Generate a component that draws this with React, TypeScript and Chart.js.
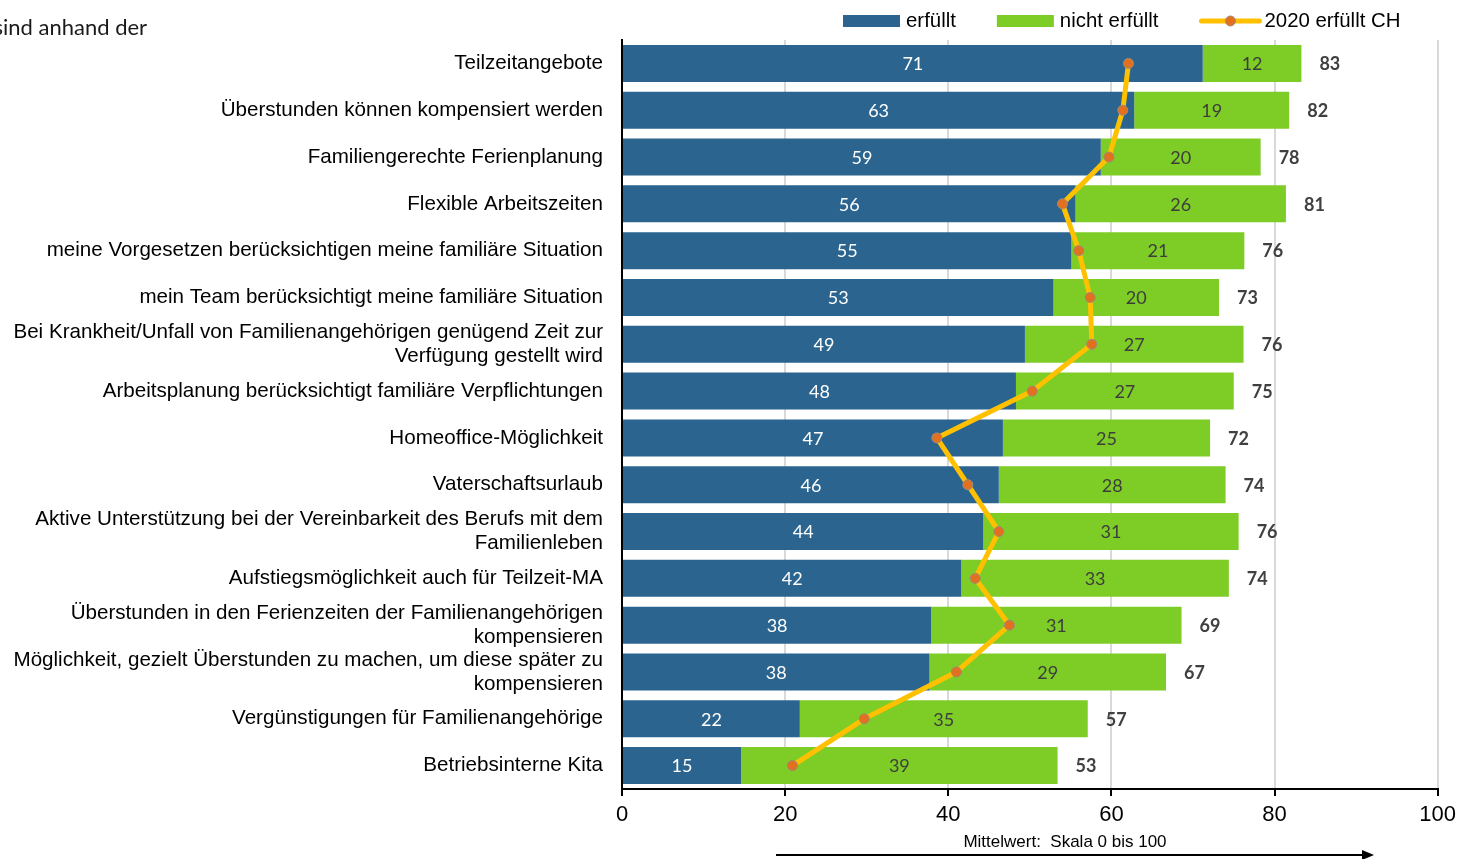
import { useEffect, useRef } from "react";
import { Chart, registerables } from "chart.js";

Chart.register(...registerables);

// Survey items (multi-line entries are arrays)
const categories: (string | string[])[] = [
  "Teilzeitangebote",
  "Überstunden können kompensiert werden",
  "Familiengerechte Ferienplanung",
  "Flexible Arbeitszeiten",
  "meine Vorgesetzen berücksichtigen meine familiäre Situation",
  "mein Team berücksichtigt meine familiäre Situation",
  ["Bei Krankheit/Unfall von Familienangehörigen genügend Zeit zur", "Verfügung gestellt wird"],
  "Arbeitsplanung berücksichtigt familiäre Verpflichtungen",
  "Homeoffice-Möglichkeit",
  "Vaterschaftsurlaub",
  ["Aktive Unterstützung bei der Vereinbarkeit des Berufs mit dem", "Familienleben"],
  "Aufstiegsmöglichkeit auch für Teilzeit-MA",
  ["Überstunden in den Ferienzeiten der Familienangehörigen", "kompensieren"],
  ["Möglichkeit, gezielt Überstunden zu machen, um diese später zu", "kompensieren"],
  "Vergünstigungen für Familienangehörige",
  "Betriebsinterne Kita",
];

const fulfilled = [71.2, 62.8, 58.7, 55.6, 55.1, 52.9, 49.4, 48.3, 46.7, 46.2, 44.3, 41.6, 37.9, 37.7, 21.8, 14.6];
const notFulfilled = [12.1, 19.0, 19.6, 25.8, 21.2, 20.3, 26.8, 26.7, 25.4, 27.8, 31.3, 32.8, 30.7, 29.0, 35.3, 38.8];
const fulfilledCH2020 = [62.1, 61.4, 59.7, 54.0, 56.0, 57.4, 57.6, 50.3, 38.6, 42.4, 46.2, 43.3, 47.5, 41.0, 29.7, 20.9];

const seriesNames = ["erfüllt", "nicht erfüllt", "2020 erfüllt CH"];
const xTickMin = 0;
const xTickMax = 100;
const xTickStep = 20;
const headingText = "sind anhand der";
const axisCaption = "Mittelwert:  Skala 0 bis 100";

const BLUE = "#2b658f";
const GREEN = "#7ecc26";
const YELLOW = "#ffc000";
const ORANGE = "#e2701f";
const ARIAL = "'Liberation Sans', Arial, sans-serif";
const CALIBRI = "Lato, 'Open Sans', sans-serif";

const segmentLabels = {
  id: "segmentLabels",
  afterDatasetsDraw(chart: any) {
    const ctx = chart.ctx as CanvasRenderingContext2D;
    const m0 = chart.getDatasetMeta(0);
    const m1 = chart.getDatasetMeta(1);
    ctx.save();
    ctx.textBaseline = "middle";
    ctx.textAlign = "center";
    ctx.font = `18px ${CALIBRI}`;
    m0.data.forEach((el: any, i: number) => {
      const { x, base, y } = el.getProps(["x", "base", "y"], true);
      ctx.fillStyle = "#ffffff";
      ctx.fillText(String(Math.round(fulfilled[i])), (x + base) / 2, y + 1);
    });
    m1.data.forEach((el: any, i: number) => {
      const { x, base, y } = el.getProps(["x", "base", "y"], true);
      ctx.fillStyle = "#3d3d3d";
      ctx.fillText(String(Math.round(notFulfilled[i])), (x + base) / 2, y + 1);
    });
    ctx.font = `bold 18px ${CALIBRI}`;
    ctx.textAlign = "left";
    ctx.fillStyle = "#404040";
    m1.data.forEach((el: any, i: number) => {
      const { x, y } = el.getProps(["x", "y"], true);
      ctx.fillText(String(Math.round(fulfilled[i] + notFulfilled[i])), x + 18, y + 1);
    });
    ctx.restore();
  },
};

const decorations = {
  id: "decorations",
  afterDraw(chart: any) {
    const ctx = chart.ctx as CanvasRenderingContext2D;
    ctx.save();

    // heading fragment at top-left
    ctx.font = `22px ${CALIBRI}`;
    ctx.fillStyle = "#1a1a1a";
    ctx.textBaseline = "middle";
    ctx.textAlign = "left";
    const sW = ctx.measureText(headingText.charAt(0)).width;
    ctx.fillText(headingText, 3 - sW, 28);

    // legend
    const ly = 21;
    let lx = 843;
    ctx.font = `20.4px ${ARIAL}`;
    ctx.fillStyle = "#000";
    const boxW = 57;
    [BLUE, GREEN].forEach((c, k) => {
      ctx.fillStyle = c;
      ctx.fillRect(lx, ly - 6, boxW, 12);
      lx += boxW + 6;
      ctx.fillStyle = "#000";
      ctx.fillText(seriesNames[k], lx, ly);
      lx += ctx.measureText(seriesNames[k]).width + 41;
    });
    ctx.strokeStyle = YELLOW;
    ctx.lineWidth = 5;
    ctx.lineCap = "round";
    ctx.beginPath();
    ctx.moveTo(lx + 2, ly);
    ctx.lineTo(lx + 60, ly);
    ctx.stroke();
    ctx.beginPath();
    ctx.arc(lx + 31, ly, 5, 0, Math.PI * 2);
    ctx.fillStyle = ORANGE;
    ctx.fill();
    ctx.lineWidth = 1;
    ctx.strokeStyle = "#9c8a7c";
    ctx.stroke();
    ctx.fillStyle = "#000";
    ctx.fillText(seriesNames[2], lx + 65, ly);

    // scale caption with arrow
    ctx.font = `17px ${ARIAL}`;
    ctx.textAlign = "center";
    ctx.fillText(axisCaption, 1065, 842);
    const ay = 855;
    ctx.strokeStyle = "#000";
    ctx.lineWidth = 2;
    ctx.lineCap = "butt";
    ctx.beginPath();
    ctx.moveTo(776, ay);
    ctx.lineTo(1364, ay);
    ctx.stroke();
    ctx.beginPath();
    ctx.moveTo(1374, ay);
    ctx.lineTo(1362, ay - 5);
    ctx.lineTo(1362, ay + 5);
    ctx.closePath();
    ctx.fillStyle = "#000";
    ctx.fill();
    ctx.restore();
  },
};

export default function App() {
  const ref = useRef<HTMLCanvasElement>(null);

  useEffect(() => {
    if (!ref.current) return;
    const chart = new Chart(ref.current, {
      type: "bar",
      data: {
        labels: categories as any,
        datasets: [
          {
            type: "bar",
            label: seriesNames[0],
            data: fulfilled,
            backgroundColor: BLUE,
            categoryPercentage: 1,
            barPercentage: 0.79,
            order: 2,
          },
          {
            type: "bar",
            label: seriesNames[1],
            data: notFulfilled,
            backgroundColor: GREEN,
            categoryPercentage: 1,
            barPercentage: 0.79,
            order: 2,
          },
          {
            type: "line",
            label: seriesNames[2],
            data: fulfilledCH2020,
            stack: "ch2020",
            borderColor: YELLOW,
            borderWidth: 5,
            pointRadius: 5,
            pointBackgroundColor: ORANGE,
            pointBorderColor: "#9c8a7c",
            pointBorderWidth: 1,
            borderJoinStyle: "round",
            tension: 0,
            order: 0,
          } as any,
        ],
      },
      options: {
        indexAxis: "y",
        responsive: false,
        animation: false,
        layout: { padding: { top: 40, right: 24, left: 0, bottom: 0 } },
        plugins: {
          legend: { display: false },
          tooltip: { enabled: false },
        },
        scales: {
          x: {
            type: "linear",
            min: xTickMin,
            max: xTickMax,
            stacked: true,
            ticks: {
              stepSize: xTickStep,
              color: "#000",
              font: { size: 22, family: ARIAL },
              padding: 6,
            },
            grid: {
              color: "#d9d9d9",
              lineWidth: 2,
              tickColor: "#000",
              tickLength: 7,
              tickWidth: 2,
            },
            border: { display: true, color: "#000", width: 2 },
            afterFit: (s: any) => {
              s.height = 70;
            },
          },
          y: {
            type: "category",
            stacked: true,
            grid: { display: false, drawTicks: false },
            border: { display: true, color: "#000", width: 2 },
            ticks: {
              color: "#000",
              autoSkip: false,
              padding: 19,
              font: { size: 20.6, family: ARIAL, lineHeight: 1.165 },
            },
            afterFit: (s: any) => {
              s.width = 622;
            },
          },
        },
      },
      plugins: [segmentLabels, decorations],
    });
    return () => chart.destroy();
  }, []);

  return (
    <div style={{ position: "absolute", left: 0, top: 0, width: 1462, height: 859, background: "#fff" }}>
      <canvas ref={ref} width={1462} height={859} style={{ display: "block" }} />
    </div>
  );
}
